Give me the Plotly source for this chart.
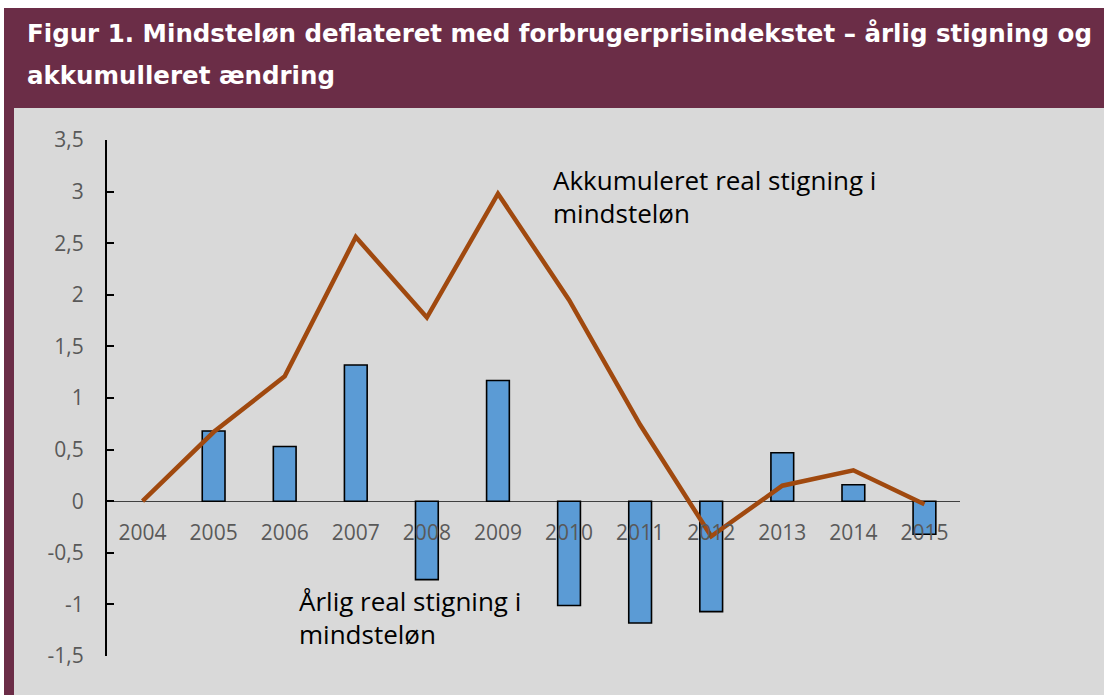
import plotly.graph_objects as go

years = ["2004", "2005", "2006", "2007", "2008", "2009", "2010", "2011", "2012", "2013", "2014", "2015"]
annual = [None, 0.68, 0.53, 1.32, -0.76, 1.17, -1.01, -1.18, -1.07, 0.47, 0.16, -0.32]
cumulative = [0.0, 0.67, 1.21, 2.56, 1.78, 2.98, 1.95, 0.74, -0.34, 0.15, 0.30, -0.03]
y_ticks = [-1.5, -1.0, -0.5, 0.0, 0.5, 1.0, 1.5, 2.0, 2.5, 3.0, 3.5]
y_ticktext = ["-1,5", "-1", "-0,5", "0", "0,5", "1", "1,5", "2", "2,5", "3", "3,5"]
title_lines = ["Figur 1. Mindsteløn deflateret med forbrugerprisindekstet – årlig stigning og",
               "akkumulleret ændring"]
label_line = ["Akkumuleret real stigning i", "mindsteløn"]
label_bar = ["Årlig real stigning i", "mindsteløn"]

W, H = 1104, 695
L, R, T, B = 107, 960, 140, 656
MAROON = "#6B2D47"
GRAY = "#D9D9D9"

def px(x):
    return (x - L) / (R - L)

def py(y):
    return (B - y) / (B - T)

fig = go.Figure()
fig.add_trace(go.Bar(x=list(range(len(years))), y=annual, width=0.32,
                     marker=dict(color="#5B9BD5", line=dict(color="black", width=1.6)),
                     showlegend=False, hoverinfo="skip"))
fig.add_trace(go.Scatter(x=list(range(len(years))), y=cumulative, mode="lines",
                         line=dict(color="#A0490F", width=4.5),
                         showlegend=False, hoverinfo="skip"))

shapes = [
    dict(type="rect", xref="paper", yref="paper", x0=px(0), x1=px(W), y0=py(0), y1=py(8),
         fillcolor="white", line=dict(width=0), layer="below"),
    dict(type="rect", xref="paper", yref="paper", x0=px(0), x1=px(4), y0=py(0), y1=py(H),
         fillcolor="white", line=dict(width=0), layer="below"),
    dict(type="rect", xref="paper", yref="paper", x0=px(14), x1=px(W), y0=py(108), y1=py(H),
         fillcolor=GRAY, line=dict(width=0), layer="below"),
]

annotations = []
for i, t in enumerate(title_lines):
    annotations.append(dict(text="<b>" + t + "</b>", xref="paper", yref="paper",
                            x=px(25), y=py(33 + 42 * i), xanchor="left", yanchor="middle",
                            showarrow=False,
                            font=dict(family="DejaVu Sans", size=24.5, color="white")))
for i, t in enumerate(label_line):
    annotations.append(dict(text=t, xref="paper", yref="paper",
                            x=px(551), y=py(180 + 33 * i), xanchor="left", yanchor="middle",
                            showarrow=False, font=dict(family="Open Sans", size=26, color="black")))
for i, t in enumerate(label_bar):
    annotations.append(dict(text=t, xref="paper", yref="paper",
                            x=px(297), y=py(601 + 33 * i), xanchor="left", yanchor="middle",
                            showarrow=False, font=dict(family="Open Sans", size=26, color="black")))

fig.update_layout(
    width=W, height=H,
    margin=dict(l=L, r=W - R, t=T, b=H - B, pad=0),
    paper_bgcolor=MAROON, plot_bgcolor="rgba(0,0,0,0)",
    shapes=shapes, annotations=annotations,
    font=dict(family="Open Sans", size=20, color="#595959"),
    xaxis=dict(type="linear", range=[-0.5, 11.5], tickmode="array",
               tickvals=list(range(len(years))), ticktext=years,
               anchor="free", position=1.5 / 5.0, showline=False, showgrid=False,
               zeroline=False, ticks="", ticklabelstandoff=17,
               tickfont=dict(family="Open Sans", size=21, color="#595959")),
    yaxis=dict(range=[-1.5, 3.5], tickmode="array", tickvals=y_ticks, ticktext=y_ticktext,
               showgrid=False,
               zeroline=True, zerolinecolor="#404040", zerolinewidth=1,
               showline=True, linecolor="black", linewidth=2,
               ticks="inside", ticklen=7, tickwidth=2, tickcolor="black",
               ticklabelstandoff=17,
               tickfont=dict(family="Open Sans", size=21, color="#595959")),
)

fig.write_html("out.html")
